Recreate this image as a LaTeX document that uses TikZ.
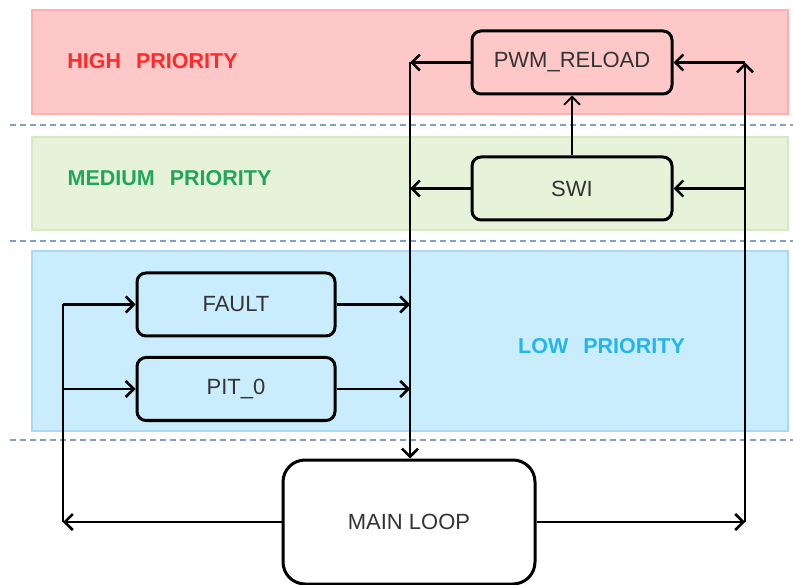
\documentclass[tikz,border=0pt]{standalone}
\usepackage{fontspec}
\setmainfont{Liberation Sans}
\usetikzlibrary{arrows.meta}
\definecolor{redfill}{HTML}{FFC8C8}
\definecolor{reddraw}{HTML}{FFAFAF}
\definecolor{greenfill}{HTML}{E6F3D9}
\definecolor{greendraw}{HTML}{D3EBC2}
\definecolor{bluefill}{HTML}{C9EDFC}
\definecolor{bluedraw}{HTML}{ABD9F1}
\definecolor{dashcol}{HTML}{7F9FCF}
\definecolor{hightext}{HTML}{FF2A2A}
\definecolor{medtext}{HTML}{22A55A}
\definecolor{lowtext}{HTML}{22B5EE}
\definecolor{nodetext}{HTML}{333333}
\tikzset{
  band/.style={line width=2pt},
  sep/.style={draw=dashcol, line width=1.8pt, dash pattern=on 6pt off 4pt},
  prio/.style={font=\fontsize{21.5}{25}\selectfont\bfseries, anchor=center, inner sep=0pt},
  box/.style={draw=black, line width=3pt, rounded corners=9pt, minimum width=198pt, minimum height=63pt, text=nodetext, font=\fontsize{22}{26}\selectfont, inner sep=0pt},
  conn/.style={draw=black, line width=2.5pt, -{Straight Barb[length=8pt,width=16pt]}},
  plain/.style={draw=black, line width=2.5pt},
}
\begin{document}
\begin{tikzpicture}[x=1pt,y=-1pt]
\useasboundingbox (0,0) rectangle (793,585);
% bands
\path[band, fill=redfill, draw=reddraw] (32,10) rectangle (788,114);
\path[band, fill=greenfill, draw=greendraw] (32,137) rectangle (788,230);
\path[band, fill=bluefill, draw=bluedraw] (32,251) rectangle (788,431);
\draw[sep] (10,125) -- (793,125);
\draw[sep] (10,241) -- (793,241);
\draw[sep] (10,440) -- (793,440);
% labels
\node[prio, text=hightext] (hp) at (152.5,61) {HIGH\hspace{0.7em}PRIORITY};
\node[prio, text=medtext] (mp) at (169.5,178) {MEDIUM\hspace{0.7em}PRIORITY};
\node[prio, text=lowtext] (lp) at (601.5,346) {LOW\hspace{0.7em}PRIORITY};
% boxes
\node[box, fill=redfill, minimum width=200pt] (pwm) at (572,62.5) {PWM\_RELOAD};
\node[box, fill=greenfill, minimum width=200pt] (swi) at (572,188.5) {SWI};
\node[box, fill=bluefill] (fault) at (236,304.5) {FAULT};
\node[box, fill=bluefill] (pit) at (236,389) {PIT\_0};
\node[box, fill=white, minimum width=252pt, minimum height=124pt, rounded corners=22pt] (main) at (409,522) {MAIN LOOP};
% rails
\coordinate (vl) at (410,0);
\coordinate (vr) at (745,0);
\coordinate (vll) at (63,0);
% left rail (to main loop)
\draw[conn] (pwm.west) -- (pwm.west -| vl);
\draw[conn] (pwm.west -| vl) -- (main.north -| vl);
\draw[conn] (swi.west) -- (swi.west -| vl);
\draw[conn] (fault.east) -- (fault.east -| vl);
\draw[conn] (pit.east) -- (pit.east -| vl);
% right rail
\draw[conn] (main.east) -- (main.east -| vr);
\draw[conn] (main.east -| vr) -- (pwm.east -| vr);
\draw[conn] (pwm.east -| vr) -- (pwm.east);
\draw[conn] (swi.east -| vr) -- (swi.east);
% far-left rail
\draw[conn] (main.west) -- (main.west -| vll);
\draw[plain] (main.west -| vll) -- (fault.west -| vll);
\draw[conn] (fault.west -| vll) -- (fault.west);
\draw[conn] (pit.west -| vll) -- (pit.west);
% swi to pwm
\draw[conn, line width=1.8pt] (swi.north) -- (pwm.south);
\end{tikzpicture}
\end{document}
